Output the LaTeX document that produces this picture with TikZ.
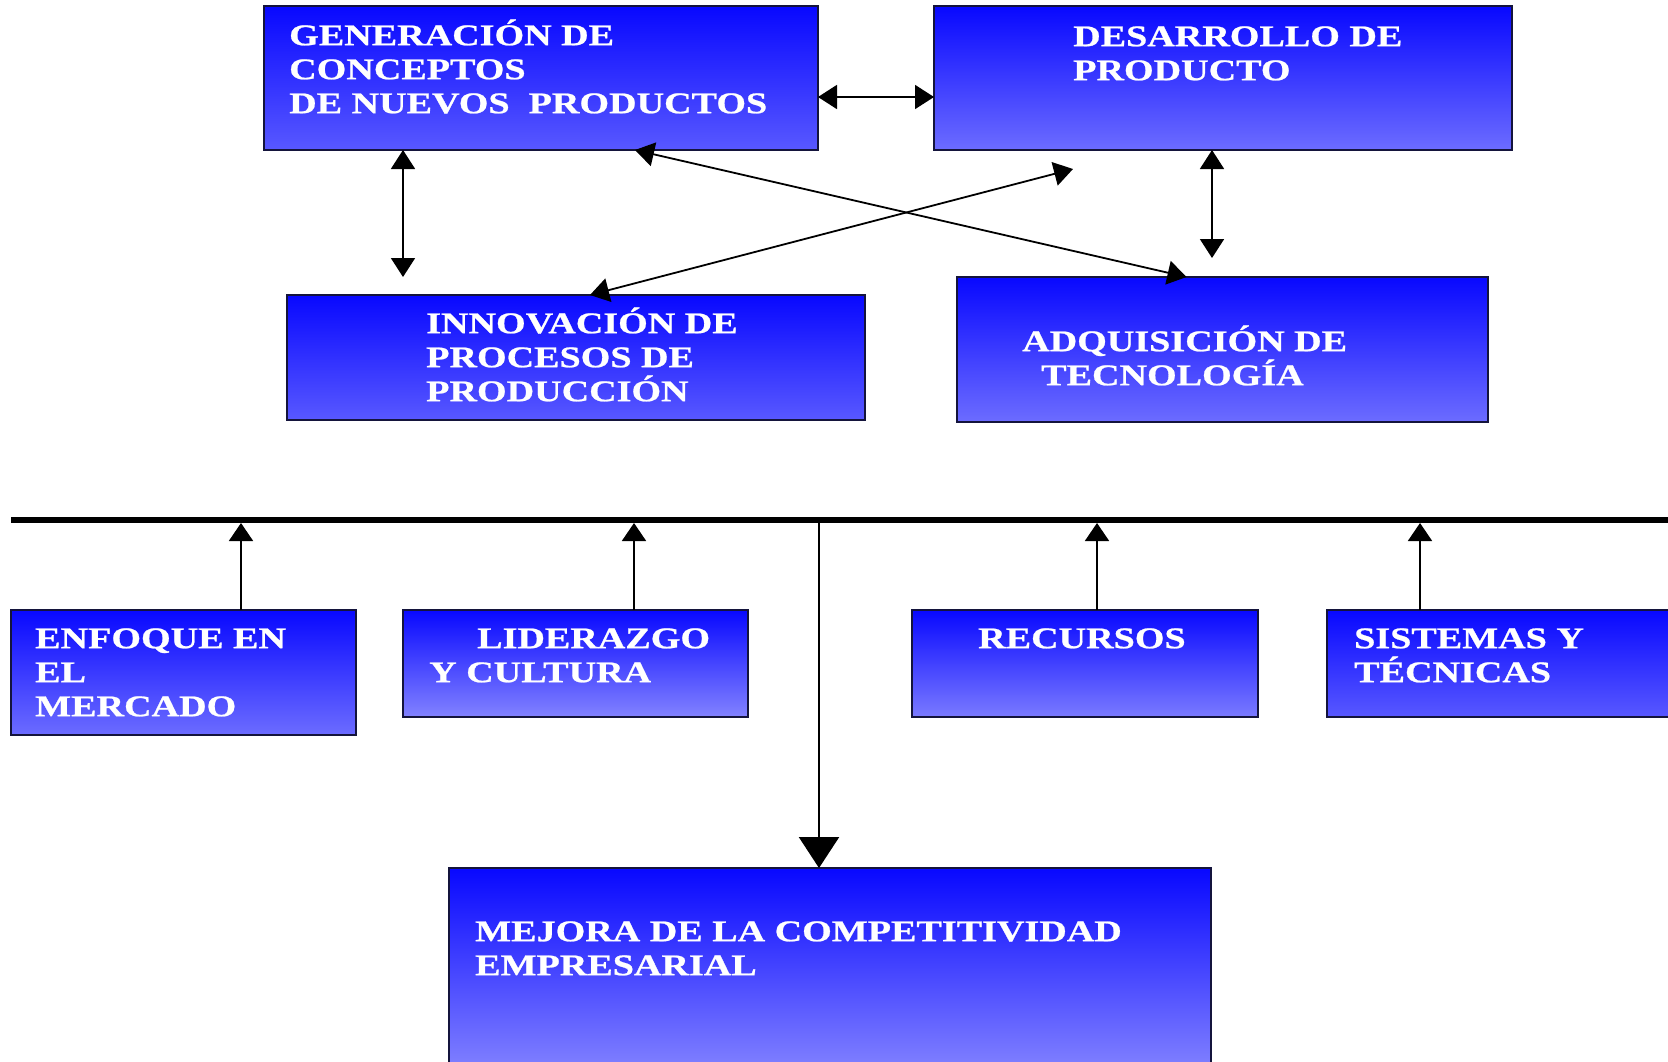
\documentclass[tikz,border=0pt]{standalone}
\usepackage{fontspec}
\setmainfont{Liberation Serif}[FakeStretch=1.27, BoldFeatures={FakeBold=0.8}]
\usetikzlibrary{arrows.meta}
\definecolor{topblue}{RGB}{8,8,255}
\definecolor{botA}{RGB}{88,88,255}
\definecolor{botB}{RGB}{108,108,255}
\definecolor{botC}{RGB}{130,130,255}
\definecolor{botD}{RGB}{122,122,255}
\definecolor{botE}{RGB}{158,158,255}
\definecolor{edge}{RGB}{20,20,60}
\begin{document}
\begin{tikzpicture}[x=1pt,y=-1pt,
  box/.style={draw=edge, line width=1.6pt, top color=topblue, inner sep=0pt, outer sep=0pt, anchor=north west},
  lbl/.style={text=white, font=\bfseries\fontsize{30}{34}\selectfont, align=left, anchor=north west, inner sep=0pt},
  link/.style={line width=1.8pt, {Triangle[length=19pt,width=24pt]}-{Triangle[length=19pt,width=24pt]}},
  up/.style={line width=1.8pt, -{Triangle[length=18pt,width=24pt]}},
  down/.style={line width=2.4pt, -{Triangle[length=31pt,width=40pt]}},
]
\clip (0,0) rectangle (1668,1061);
\fill[white] (0,0) rectangle (1668,1061);

% boxes
\node[box, bottom color=botA, minimum width=554pt, minimum height=144pt] (gen) at (264,6) {};
\node[box, bottom color=botB, minimum width=578pt, minimum height=144pt] (des) at (934,6) {};
\node[box, bottom color=botA, minimum width=578pt, minimum height=125pt] (inn) at (287,295) {};
\node[box, bottom color=botB, minimum width=531pt, minimum height=145pt] (adq) at (957,277) {};
\node[box, bottom color=botB, minimum width=345pt, minimum height=125pt] (enf) at (11,610) {};
\node[box, bottom color=botC, minimum width=345pt, minimum height=107pt] (lid) at (403,610) {};
\node[box, bottom color=botD, minimum width=346pt, minimum height=107pt] (rec) at (912,610) {};
\node[box, bottom color=botA, minimum width=400pt, minimum height=107pt] (sis) at (1327,610) {};
\node[box, bottom color=botE, minimum width=762pt, minimum height=250pt] (mej) at (449,868) {};

% labels
\node[lbl] (genT) at (289,17) {\rule{0pt}{28pt}GENERACIÓN DE\\CONCEPTOS\\DE NUEVOS\ \ PRODUCTOS};
\node[lbl] (desT) at (1073,18) {\rule{0pt}{28pt}DESARROLLO DE\\PRODUCTO};
\node[lbl] (innT) at (426,305) {\rule{0pt}{28pt}INNOVACIÓN DE\\PROCESOS DE\\PRODUCCIÓN};
\node[lbl] (adqT) at (1022,323) {\rule{0pt}{28pt}ADQUISICIÓN DE\\\hspace*{19pt}TECNOLOGÍA};
\node[lbl] (enfT) at (35,620) {\rule{0pt}{28pt}ENFOQUE EN\\EL\\MERCADO};
\node[lbl] (lidT) at (429,620) {\rule{0pt}{28pt}\hspace*{48pt}LIDERAZGO\\Y CULTURA};
\node[lbl] (recT) at (978,620) {\rule{0pt}{28pt}RECURSOS};
\node[lbl] (sisT) at (1354,620) {\rule{0pt}{28pt}SISTEMAS Y\\TÉCNICAS};
\node[lbl] (mejT) at (475,913) {\rule{0pt}{28pt}MEJORA DE LA COMPETITIVIDAD\\EMPRESARIAL};

% free ends
\coordinate (g1) at (403,277);
\coordinate (d1) at (1212,258);
\coordinate (f1) at (1073,169);

% top connectors
\draw[link] ([yshift=-19pt]gen.east) -- ([yshift=-19pt]des.west);
\draw[link] (gen.south -| g1) -- (g1);
\draw[link] (des.south -| d1) -- (d1);
\draw[link] ([xshift=94pt]gen.south) -- ([xshift=-36pt]adq.north);
\draw[link] ([xshift=14pt]inn.north) -- (f1);

% bus line
\coordinate (busL) at (11,520);
\coordinate (busR) at (1680,520);
\draw[line width=6pt] (busL) -- (busR);

\coordinate (b1) at (241,523);
\coordinate (b2) at (634,523);
\coordinate (b3) at (1097,523);
\coordinate (b4) at (1420,523);
\coordinate (b0) at (819,521);
\draw[up] (enf.north -| b1) -- (b1);
\draw[up] (lid.north -| b2) -- (b2);
\draw[up] (rec.north -| b3) -- (b3);
\draw[up] (sis.north -| b4) -- (b4);
\draw[down] (b0) -- (mej.north -| b0);
\end{tikzpicture}
\end{document}
